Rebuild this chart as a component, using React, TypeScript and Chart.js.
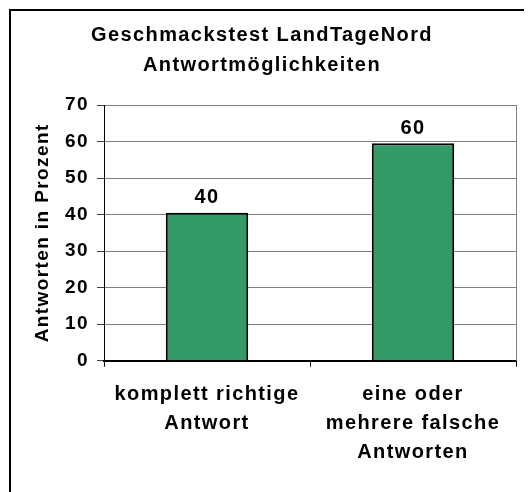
import React, { useEffect, useRef } from 'react';
import { Chart, registerables } from 'chart.js';

Chart.register(...registerables);

const titleLines = ['Geschmackstest LandTageNord', 'Antwortmöglichkeiten'];
const categories = [
  ['komplett richtige', 'Antwort'],
  ['eine oder', 'mehrere falsche', 'Antworten'],
];
const values = [40.5, 59.5];
const valueLabels = ['40', '60'];
const yAxisTitle = 'Antworten in Prozent';
const yMin = 0;
const yMax = 70;
const yStep = 10;

const FONT = '"Liberation Sans", Arial, Helvetica, sans-serif';
const SPACING = '1.4px';

export default function App() {
  const ref = useRef<HTMLCanvasElement>(null);

  useEffect(() => {
    const canvas = ref.current;
    if (!canvas) return;

    const spacingPlugin = {
      id: 'spacing',
      beforeLayout(chart: any) {
        chart.ctx.letterSpacing = SPACING;
      },
      beforeDraw(chart: any) {
        chart.ctx.letterSpacing = SPACING;
      },
    };

    const framePlugin = {
      id: 'frame',
      beforeDraw(chart: any) {
        const { ctx, width, height } = chart;
        ctx.save();
        ctx.fillStyle = '#ffffff';
        ctx.fillRect(0, 0, width, height);
        ctx.fillStyle = '#000000';
        ctx.fillRect(1, 1, 2, height);
        ctx.fillRect(1, 1, 522, 2);
        ctx.fillStyle = '#808080';
        ctx.fillRect(522, 1, 1, height);
        ctx.restore();
      },
      beforeDatasetsDraw(chart: any) {
        const { ctx, chartArea } = chart;
        ctx.save();
        ctx.strokeStyle = '#808080';
        ctx.lineWidth = 1;
        ctx.beginPath();
        ctx.moveTo(Math.round(chartArea.right) + 0.5, chartArea.top);
        ctx.lineTo(Math.round(chartArea.right) + 0.5, chartArea.bottom);
        ctx.stroke();
        ctx.restore();
      },
    };

    const labelPlugin = {
      id: 'valueLabels',
      afterDatasetsDraw(chart: any) {
        const { ctx } = chart;
        const meta = chart.getDatasetMeta(0);
        ctx.save();
        ctx.letterSpacing = SPACING;
        ctx.font = `bold 20px ${FONT}`;
        ctx.fillStyle = '#000000';
        ctx.textAlign = 'center';
        ctx.textBaseline = 'middle';
        meta.data.forEach((bar: any, i: number) => {
          ctx.fillText(valueLabels[i], bar.x, bar.y - 15);
        });
        ctx.restore();
      },
    };

    const chart = new Chart(canvas, {
      type: 'bar',
      data: {
        labels: categories as any,
        datasets: [
          {
            data: values,
            backgroundColor: '#339966',
            borderColor: '#000000',
            borderWidth: 2,
            barPercentage: 0.4,
            categoryPercentage: 1,
          },
        ],
      },
      options: {
        animation: false,
        responsive: false,
        maintainAspectRatio: false,
        layout: { padding: { top: 0, left: 0, right: 16, bottom: 0 } },
        plugins: {
          legend: { display: false },
          tooltip: { enabled: false },
          title: {
            display: true,
            text: titleLines,
            color: '#000000',
            font: { family: FONT, size: 20, weight: 'bold', lineHeight: 30 / 20 },
            padding: { top: 12, bottom: 25 },
          },
        },
        scales: {
          x: {
            grid: {
              display: true,
              drawOnChartArea: false,
              drawTicks: true,
              tickLength: 6,
              tickColor: '#000000',
              offset: true,
            },
            border: { display: true, color: '#000000', width: 2 },
            ticks: {
              color: '#000000',
              font: { family: FONT, size: 20, weight: 'bold', lineHeight: 29 / 20 },
              padding: 13,
              maxRotation: 0,
              autoSkip: false,
            },
            afterFit(scale: any) {
              scale.height = 131.3;
            },
          },
          y: {
            min: yMin,
            max: yMax,
            grid: {
              color: '#808080',
              tickColor: '#404040',
              tickLength: 7,
            },
            border: { display: true, color: '#000000', width: 1 },
            ticks: {
              stepSize: yStep,
              color: '#000000',
              font: { family: FONT, size: 19, weight: 'bold' },
              padding: 8,
            },
            title: {
              display: true,
              text: yAxisTitle,
              color: '#000000',
              font: { family: FONT, size: 19, weight: 'bold', lineHeight: 1.2 },
              padding: { top: 23, bottom: 0 },
            },
            afterFit(scale: any) {
              scale.width = 96;
            },
          },
        },
      },
      plugins: [spacingPlugin, framePlugin, labelPlugin],
    });

    return () => chart.destroy();
  }, []);

  return (
    <div style={{ width: 524, height: 484 }}>
      <canvas ref={ref} width={524} height={484} style={{ display: 'block', width: 524, height: 484 }} />
    </div>
  );
}
